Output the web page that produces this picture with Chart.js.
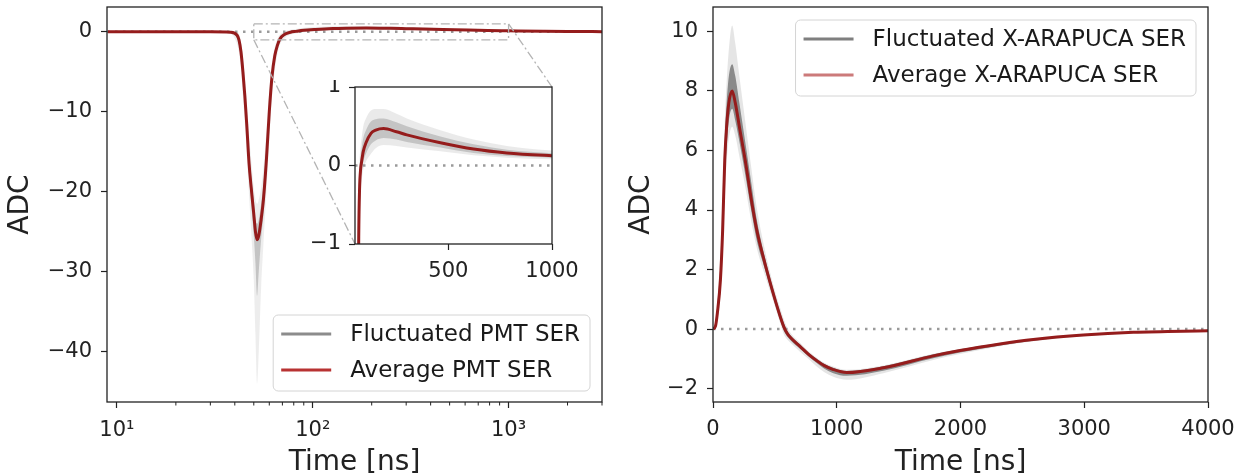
<!DOCTYPE html>
<html>
<head>
<meta charset="utf-8">
<script src="https://cdn.jsdelivr.net/npm/chart.js@4.4.1/dist/chart.umd.min.js"></script>
<style>
body{margin:0;background:#fff;width:1246px;height:476px;position:relative;overflow:hidden}
canvas{position:absolute}
#pmtMain{left:0;top:0}
#pmtZoom{left:300px;top:80px}
#xaMain{left:620px;top:0}
</style>
</head>
<body>
<canvas id="pmtMain" width="620" height="476"></canvas>
<canvas id="xaMain" width="626" height="476"></canvas>
<canvas id="pmtZoom" width="310" height="215"></canvas>
<script>
// PMT single electron response (left, log time axis)
const pmtTime     = [9, 30, 38, 41, 42, 43, 44, 45, 46, 47.3, 48.5, 50, 51, 52, 53, 54.5, 56, 58, 60, 62, 64, 66, 68, 72, 77, 82, 90, 103, 127, 150, 188, 250, 300, 462, 622, 782, 1000, 1500, 2000, 3000];
const pmtAverage  = [0, 0, -0.05, -0.4, -1, -2.5, -5, -8, -11.5, -16.5, -19.5, -22.8, -25, -26, -25.5, -23.5, -21, -16, -10, -5.5, -3, -1.7, -0.9, -0.3, -0.05, 0.05, 0.18, 0.29, 0.41, 0.45, 0.47, 0.43, 0.39, 0.29, 0.21, 0.16, 0.125, 0.07, 0.04, 0.02];
const pmtOuterHi  = [0.05, 0.05, 0.05, 0, -0.3, -1.2, -3, -5.5, -8.5, -13, -16, -19.5, -21, -21.5, -21, -19.5, -17, -12.5, -7.5, -3.8, -1.9, -0.9, -0.35, 0.05, 0.25, 0.35, 0.5, 0.6, 0.7, 0.72, 0.72, 0.66, 0.6, 0.45, 0.33, 0.25, 0.19, 0.1, 0.06, 0.03];
const pmtOuterLo  = [-0.05, -0.05, -0.25, -1.5, -2.6, -4.6, -8, -11.5, -15, -20.5, -25, -31, -38, -44, -40, -32, -26.5, -20, -13.5, -8, -4.8, -2.8, -1.6, -0.8, -0.35, -0.2, -0.05, 0.05, 0.15, 0.22, 0.26, 0.25, 0.23, 0.18, 0.13, 0.1, 0.08, 0.04, 0.02, 0.01];
const pmtCoreHi   = [0.03, 0.03, 0, -0.2, -0.6, -1.8, -4, -6.8, -10.2, -15, -18, -21.3, -23.5, -24, -23.5, -21.5, -19, -14.5, -8.8, -4.6, -2.4, -1.3, -0.6, -0.1, 0.12, 0.22, 0.35, 0.45, 0.56, 0.59, 0.6, 0.55, 0.5, 0.37, 0.27, 0.2, 0.155, 0.085, 0.05, 0.025];
const pmtCoreLo   = [-0.03, -0.03, -0.12, -0.8, -1.6, -3.4, -6.3, -9.5, -13, -18, -21.5, -25.5, -29, -33, -30, -26, -23, -17.8, -11.5, -6.6, -3.7, -2.2, -1.2, -0.5, -0.2, -0.08, 0.05, 0.15, 0.27, 0.32, 0.35, 0.33, 0.3, 0.23, 0.16, 0.12, 0.1, 0.055, 0.03, 0.015];
const pmtYTicks   = [-40, -30, -20, -10, 0];
const pmtXTicks   = [10, 100, 1000];
const pmtXLabels  = ['10\u00b9', '10\u00b2', '10\u00b3'];
const pmtMinorX   = [20, 30, 40, 50, 60, 70, 80, 90, 200, 300, 400, 500, 600, 700, 800, 900, 2000, 3000];
const zoomX       = [50, 1000];
const zoomY       = [-1, 1];
const zoomXTicks  = [500, 1000];
const zoomYTicks  = [-1, 0, 1];

// X-ARAPUCA single electron response (right, linear time axis)
const xaTime      = [0, 20, 35, 60, 78, 95, 110, 128, 155, 180, 213, 260, 310, 355, 420, 490, 545, 575, 600, 630, 703, 770, 838, 900, 972, 1080, 1376, 1780, 1996, 2319, 2588, 2992, 3397, 4000];
const xaAverage   = [0, 0.1, 0.53, 1.65, 3.33, 5.68, 6.8, 7.6, 8.0, 7.6, 6.8, 5.68, 4.34, 3.3, 2.2, 1.15, 0.4, 0.05, -0.15, -0.3, -0.58, -0.84, -1.06, -1.23, -1.36, -1.46, -1.3, -0.9, -0.72, -0.5, -0.35, -0.2, -0.11, -0.06];
const xaOuterHi   = [0.05, 0.3, 1.0, 2.6, 4.6, 7.0, 8.3, 9.4, 10.2, 9.6, 8.5, 7.0, 5.4, 4.05, 2.65, 1.45, 0.68, 0.3, 0.05, -0.15, -0.46, -0.74, -0.96, -1.13, -1.26, -1.37, -1.22, -0.83, -0.67, -0.46, -0.32, -0.18, -0.1, -0.05];
const xaOuterLo   = [-0.05, 0, 0.3, 1.1, 2.5, 4.5, 5.6, 6.4, 6.8, 6.5, 5.8, 4.8, 3.6, 2.7, 1.8, 0.9, 0.17, -0.2, -0.35, -0.48, -0.76, -1.0, -1.26, -1.45, -1.6, -1.7, -1.48, -1.04, -0.84, -0.58, -0.41, -0.24, -0.13, -0.07];
const xaCoreHi    = [0.02, 0.2, 0.8, 2.2, 4.0, 6.4, 7.6, 8.5, 8.9, 8.5, 7.6, 6.3, 4.9, 3.65, 2.4, 1.3, 0.53, 0.17, -0.06, -0.23, -0.52, -0.79, -1.0, -1.17, -1.3, -1.41, -1.25, -0.85, -0.68, -0.47, -0.33, -0.19, -0.1, -0.055];
const xaCoreLo    = [-0.02, 0.03, 0.4, 1.3, 2.8, 5.0, 6.1, 7.0, 7.4, 7.0, 6.3, 5.2, 3.95, 2.95, 2.0, 1.0, 0.27, -0.08, -0.25, -0.39, -0.66, -0.91, -1.14, -1.33, -1.48, -1.57, -1.4, -0.98, -0.79, -0.55, -0.39, -0.22, -0.12, -0.065];
const xaYTicks    = [-2, 0, 2, 4, 6, 8, 10];
const xaXTicks    = [0, 1000, 2000, 3000, 4000];

const FONT = '"DejaVu Sans", sans-serif';
const INK = '#222';
const AVG_RED = '#951c1c';
Chart.defaults.font.family = FONT;
Chart.defaults.color = INK;

const pts = (xs, ys) => xs.map((x, i) => ({x: x, y: ys[i]}));
const fmt = v => v < 0 ? '\u2212' + Math.abs(v) : String(v);

// band = two datasets, upper one filled down to the lower one
function traceSets(xs, avg, oHi, oLo, cHi, cLo, outerCol, coreCol, first, last) {
  const base = {pointRadius: 0, borderWidth: 0, cubicInterpolationMode: 'monotone', fill: false};
  return [
    Object.assign({}, base, {data: pts(xs, oLo), order: 5}),
    Object.assign({}, base, {data: pts(xs, oHi), order: 4, fill: {target: 0}, backgroundColor: outerCol}),
    Object.assign({}, base, {data: pts(xs, cLo), order: 3}),
    Object.assign({}, base, {data: pts(xs, cHi), order: 2, fill: {target: 2}, backgroundColor: coreCol}),
    {data: [{x: first, y: 0}, {x: last, y: 0}], order: 1, pointRadius: 0, borderWidth: 2.5,
     borderColor: '#9a9a9a', borderDash: [2.5, 5.5], fill: false},
    Object.assign({}, base, {data: pts(xs, avg), order: 0, borderWidth: 3, borderColor: AVG_RED})
  ];
}

const framePlugin = {
  id: 'frame',
  beforeDraw(chart, args, opts) {
    if (!opts.white) return;
    const a = chart.chartArea, ctx = chart.ctx;
    ctx.save(); ctx.fillStyle = '#fff';
    ctx.fillRect(a.left, a.top, a.right - a.left, a.bottom - a.top);
    ctx.restore();
  },
  afterDraw(chart, args, opts) {
    const a = chart.chartArea, ctx = chart.ctx;
    ctx.save();
    ctx.strokeStyle = INK; ctx.lineWidth = 1.3;
    ctx.strokeRect(a.left, a.top, a.right - a.left, a.bottom - a.top);
    if (opts.minor) {
      ctx.lineWidth = 1;
      opts.minor.forEach(v => {
        const px = chart.scales.x.getPixelForValue(v);
        ctx.beginPath(); ctx.moveTo(px, a.bottom); ctx.lineTo(px, a.bottom + 3.5); ctx.stroke();
      });
    }
    ctx.restore();
  }
};

const boxLegend = {
  id: 'boxLegend',
  afterDraw(chart, args, opts) {
    if (!opts.items) return;
    const ctx = chart.ctx, a = chart.chartArea;
    ctx.save();
    ctx.font = '23px ' + FONT;
    const tw = Math.max(...opts.items.map(it => ctx.measureText(it.label).width));
    const w = 77 + tw + 10, h = 76;
    const x = a.right - opts.right - w;
    const y = opts.top != null ? a.top + opts.top : a.bottom - opts.bottom - h;
    ctx.fillStyle = 'rgba(255,255,255,0.85)';
    ctx.strokeStyle = '#d4d4d4'; ctx.lineWidth = 1;
    ctx.beginPath(); ctx.roundRect(x, y, w, h, 5); ctx.fill(); ctx.stroke();
    opts.items.forEach((it, i) => {
      const cy = y + 19 + i * 36;
      ctx.strokeStyle = it.color; ctx.lineWidth = 3;
      ctx.beginPath(); ctx.moveTo(x + 8, cy); ctx.lineTo(x + 58, cy); ctx.stroke();
      ctx.fillStyle = '#1a1a1a'; ctx.textBaseline = 'middle'; ctx.textAlign = 'left';
      ctx.fillText(it.label, x + 77, cy + 1);
    });
    ctx.restore();
  }
};

// fixed axis boxes, so the plot frames land where the reference has them
const fixX = h => s => { s.height = h; s.paddingLeft = 0; s.paddingRight = 0; };
const fixY = w => s => { s.width = w; s.paddingTop = 0; s.paddingBottom = 0; };

function tickAxis(extra) {
  return Object.assign({
    grid: {drawOnChartArea: false, tickLength: 6, tickColor: INK, tickWidth: 1.2},
    border: {display: false},
  }, extra);
}

// inset (zoom on the overshoot)
const zoomCanvas = document.getElementById('pmtZoom');
const insetChart = new Chart(zoomCanvas, {
  type: 'line',
  data: {datasets: traceSets(pmtTime, pmtAverage, pmtOuterHi, pmtOuterLo, pmtCoreHi, pmtCoreLo,
    'rgba(140,140,140,0.18)', 'rgba(110,110,110,0.3)', zoomX[0], zoomX[1])},
  options: {
    responsive: false, animation: false,
    layout: {padding: {top: 7, right: 58, left: 0, bottom: 0}},
    plugins: {legend: {display: false}, tooltip: {enabled: false}, frame: {white: true}},
    scales: {
      x: tickAxis({type: 'linear', min: zoomX[0], max: zoomX[1],
        afterBuildTicks: s => { s.ticks = zoomXTicks.map(v => ({value: v})); },
        afterFit: fixX(51),
        ticks: {font: {size: 21}, color: INK, padding: 9, maxRotation: 0, autoSkip: false, callback: v => fmt(v)}}),
      y: tickAxis({type: 'linear', min: zoomY[0], max: zoomY[1],
        afterBuildTicks: s => { s.ticks = zoomYTicks.map(v => ({value: v})); },
        afterFit: fixY(55),
        ticks: {font: {size: 21}, color: INK, padding: 8, callback: v => fmt(v)}})
    }
  },
  plugins: [framePlugin]
});

// dash-dot box and the two connector lines towards the inset
const mainCanvas = document.getElementById('pmtMain');
const zoomMarks = {
  id: 'zoomMarks',
  afterDatasetsDraw(chart) {
    const ctx = chart.ctx, sx = chart.scales.x, sy = chart.scales.y;
    const x0 = sx.getPixelForValue(zoomX[0]), x1 = sx.getPixelForValue(zoomX[1]);
    const yT = sy.getPixelForValue(zoomY[1]), yB = sy.getPixelForValue(zoomY[0]);
    const dx = zoomCanvas.offsetLeft - mainCanvas.offsetLeft, dy = zoomCanvas.offsetTop - mainCanvas.offsetTop;
    const ia = insetChart.chartArea;
    ctx.save();
    ctx.strokeStyle = '#b4b4b4'; ctx.lineWidth = 1.3; ctx.setLineDash([9, 3, 2, 3]);
    ctx.strokeRect(x0, yT, x1 - x0, yB - yT);
    ctx.beginPath(); ctx.moveTo(x0, yB); ctx.lineTo(ia.left + dx, ia.bottom + dy); ctx.stroke();
    ctx.beginPath(); ctx.moveTo(x1, yT); ctx.lineTo(ia.right + dx, ia.top + dy); ctx.stroke();
    ctx.restore();
  }
};

new Chart(mainCanvas, {
  type: 'line',
  data: {datasets: traceSets(pmtTime, pmtAverage, pmtOuterHi, pmtOuterLo, pmtCoreHi, pmtCoreLo,
    'rgba(140,140,140,0.16)', 'rgba(110,110,110,0.32)', 8.9, 3000)},
  options: {
    responsive: false, animation: false,
    layout: {padding: {top: 7, right: 18, left: 0, bottom: 0}},
    plugins: {
      legend: {display: false}, tooltip: {enabled: false},
      frame: {minor: pmtMinorX},
      boxLegend: {right: 12, bottom: 11, items: [
        {label: 'Fluctuated PMT SER', color: '#8c8c8c'},
        {label: 'Average PMT SER', color: '#b83232'}]}
    },
    scales: {
      x: tickAxis({type: 'logarithmic', min: 8.9, max: 3000,
        afterBuildTicks: s => { s.ticks = pmtXTicks.map(v => ({value: v})); },
        afterFit: fixX(74),
        ticks: {font: {size: 21}, color: INK, padding: 10, maxRotation: 0, autoSkip: false,
          callback: (v, i) => pmtXLabels[i]},
        title: {display: true, text: 'Time [ns]', font: {size: 28}, color: INK, padding: {top: 0, bottom: -4}}}),
      y: tickAxis({type: 'linear', min: -46.3, max: 3.1,
        afterBuildTicks: s => { s.ticks = pmtYTicks.map(v => ({value: v})); },
        afterFit: fixY(107),
        ticks: {font: {size: 21}, color: INK, padding: 9, callback: v => fmt(v)},
        title: {display: true, text: 'ADC', font: {size: 28}, color: INK, padding: {top: 4, bottom: 0}}})
    }
  },
  plugins: [framePlugin, boxLegend, zoomMarks]
});

new Chart(document.getElementById('xaMain'), {
  type: 'line',
  data: {datasets: traceSets(xaTime, xaAverage, xaOuterHi, xaOuterLo, xaCoreHi, xaCoreLo,
    'rgba(0,0,0,0.1)', 'rgba(0,0,0,0.4)', 0, 4000)},
  options: {
    responsive: false, animation: false,
    layout: {padding: {top: 7, right: 38, left: 0, bottom: 0}},
    plugins: {
      legend: {display: false}, tooltip: {enabled: false},
      boxLegend: {right: 12, top: 13, items: [
        {label: 'Fluctuated X-ARAPUCA SER', color: '#7f7f7f'},
        {label: 'Average X-ARAPUCA SER', color: '#cc7a7a'}]}
    },
    scales: {
      x: tickAxis({type: 'linear', min: 0, max: 4000,
        afterBuildTicks: s => { s.ticks = xaXTicks.map(v => ({value: v})); },
        afterFit: fixX(74),
        ticks: {font: {size: 21}, color: INK, padding: 9, maxRotation: 0, autoSkip: false, callback: v => fmt(v)},
        title: {display: true, text: 'Time [ns]', font: {size: 28}, color: INK, padding: {top: 0, bottom: -4}}}),
      y: tickAxis({type: 'linear', min: -2.45, max: 10.82,
        afterBuildTicks: s => { s.ticks = xaYTicks.map(v => ({value: v})); },
        afterFit: fixY(93),
        ticks: {font: {size: 21}, color: INK, padding: 9, callback: v => fmt(v)},
        title: {display: true, text: 'ADC', font: {size: 28}, color: INK, padding: {top: 5, bottom: 0}}})
    }
  },
  plugins: [framePlugin, boxLegend]
});
</script>
</body>
</html>
